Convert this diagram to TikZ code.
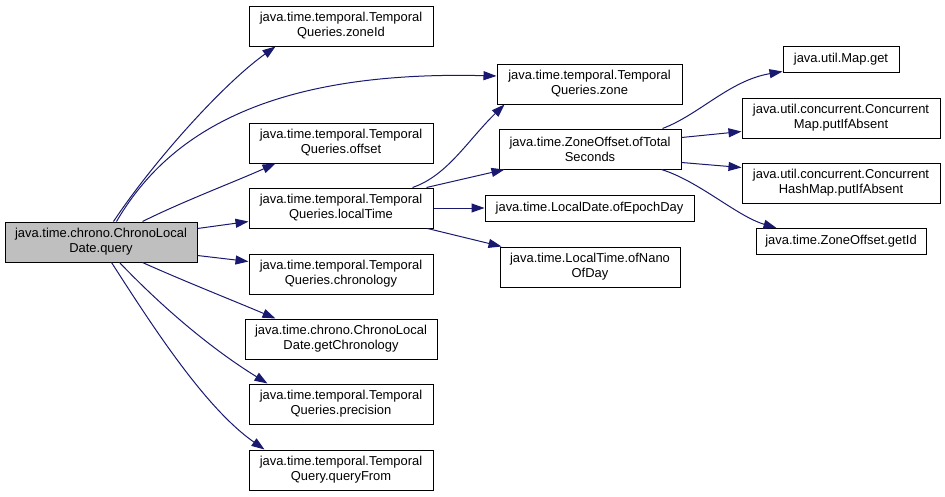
\documentclass[tikz,border=0pt]{standalone}
\usepackage{fontspec}
\setmainfont{Liberation Sans}
\usetikzlibrary{arrows.meta,calc}
\definecolor{edgec}{HTML}{191970}
\definecolor{mainfill}{HTML}{BFBFBF}
\tikzset{
  box/.style={draw=black, line width=0.75pt, fill=white, align=center, inner sep=0pt,
    minimum height=30pt, font=\fontsize{9.7}{11.25}\selectfont},
  smallbox/.style={box, minimum height=19.5pt},
  call/.style={draw=edgec, line width=0.75pt, -{Triangle[length=9.75pt,width=6.75pt]}}
}
\begin{document}
\begin{tikzpicture}[x=0.75pt,y=-0.75pt]
\useasboundingbox (0,0) rectangle (945,496);
% nodes
\node[box, fill=mainfill, minimum width=144pt] (main) at (101,242) {java.time.chrono.ChronoLocal\\Date.query};
\node[box, minimum width=138pt] (zoneId) at (341,26) {java.time.temporal.Temporal\\Queries.zoneId};
\node[box, minimum width=138.75pt] (zone) at (589.5,84) {java.time.temporal.Temporal\\Queries.zone};
\node[box, minimum width=138pt] (offset) at (341,143) {java.time.temporal.Temporal\\Queries.offset};
\node[box, minimum width=138pt] (localTime) at (341,208) {java.time.temporal.Temporal\\Queries.localTime};
\node[box, minimum width=138pt] (chronology) at (341,274) {java.time.temporal.Temporal\\Queries.chronology};
\node[box, minimum width=144pt] (getChron) at (341,339) {java.time.chrono.ChronoLocal\\Date.getChronology};
\node[box, minimum width=138pt] (precision) at (341,404) {java.time.temporal.Temporal\\Queries.precision};
\node[box, minimum width=138pt] (queryFrom) at (341,470) {java.time.temporal.Temporal\\Query.queryFrom};
\node[box, minimum width=136.5pt] (ofTotal) at (590,149) {java.time.ZoneOffset.ofTotal\\Seconds};
\node[smallbox, minimum width=156.75pt] (epochDay) at (589.5,208) {java.time.LocalDate.ofEpochDay};
\node[box, minimum width=135pt] (nanoDay) at (590,267) {java.time.LocalTime.ofNano\\OfDay};
\node[smallbox, minimum width=87pt] (mapGet) at (841,59) {java.util.Map.get};
\node[box, minimum width=148.5pt] (cmap) at (841,118) {java.util.concurrent.Concurrent\\Map.putIfAbsent};
\node[box, minimum width=148.5pt] (chmap) at (841,183) {java.util.concurrent.Concurrent\\HashMap.putIfAbsent};
\node[smallbox, minimum width=127.5pt] (getId) at (841,241.5) {java.time.ZoneOffset.getId};
% edges from main
\draw[call] ($(main.north west)+(109,0)$) .. controls +(40,-60) and +(-53,38) .. ($(zoneId.south west)+(27,0)$);
\draw[call] ($(main.north west)+(112,0)$) .. controls +(48,-82) and +(-237,-6) .. ($(zone.west)+(0,-8)$);
\draw[call] ($(main.north west)+(138,0)$) .. controls +(40,-20) and +(-40,18) .. ($(offset.south west)+(27,0)$);
\draw[call] ($(main.north east)+(0,7)$) -- ($(localTime.south west)+(0,-7)$);
\draw[call] ($(main.south east)+(0,-7)$) -- ($(chronology.north west)+(0,8)$);
\draw[call] ($(main.south west)+(138,0)$) .. controls +(40,18) and +(-40,-17) .. ($(getChron.north west)+(31,0)$);
\draw[call] ($(main.south west)+(115,0)$) .. controls +(45,47) and +(-55,-34) .. ($(precision.north west)+(19,0)$);
\draw[call] ($(main.south west)+(107,0)$) .. controls +(40,62) and +(-60,-42) .. ($(queryFrom.north west)+(16,0)$);
% edges from localTime
\draw[call] ($(localTime.north west)+(164,0)$) .. controls +(35,-12) and +(-37,36) .. ($(zone.south west)+(8,0)$);
\draw[call] ($(localTime.north west)+(178,0)$) -- ($(ofTotal.south west)+(6,0)$);
\draw[call] (localTime.east) -- (epochDay.west);
\draw[call] ($(localTime.south west)+(179,0)$) -- ($(nanoDay.north west)+(2,0)$);
% edges from ofTotalSeconds
\draw[call] ($(ofTotal.north west)+(164,0)$) .. controls +(37,-14) and +(-53,9) .. ($(mapGet.south west)+(0,-1)$);
\draw[call] ($(ofTotal.north east)+(0,9)$) -- ($(cmap.south west)+(0,-7)$);
\draw[call] ($(ofTotal.south east)+(0,-7)$) -- ($(chmap.north west)+(0,5)$);
\draw[call] ($(ofTotal.south west)+(163,0)$) .. controls +(38,12) and +(-40,-12) .. ($(getId.north west)+(21,0)$);
\end{tikzpicture}
\end{document}
